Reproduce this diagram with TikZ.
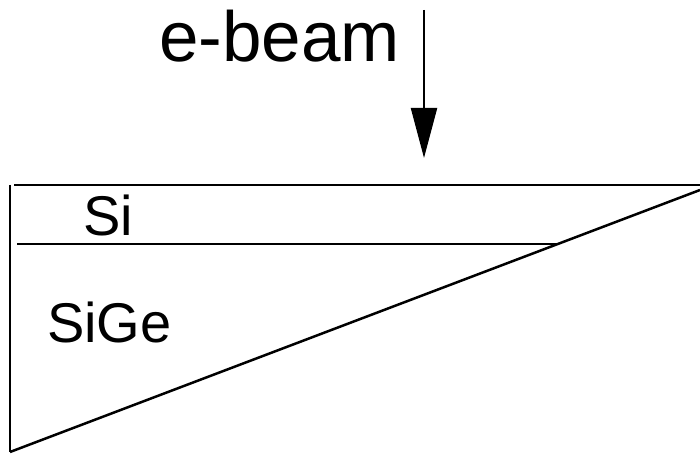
\documentclass[tikz,border=0pt]{standalone}
\usepackage{fontspec}
\setmainfont{Liberation Sans}
\usetikzlibrary{arrows.meta}
\begin{document}
\begin{tikzpicture}[x=1pt,y=-1pt,
    edge/.style={line width=2.5pt},
    label/.style={anchor=base west,inner sep=0pt,outer sep=0pt},
    big/.style={label,font=\fontsize{71}{71}\selectfont},
    mid/.style={label,font=\fontsize{56}{56}\selectfont}]
  \useasboundingbox (0,0) rectangle (700,454);
  % layer outline
  \coordinate (tl) at (10,185);
  \coordinate (tr) at (700,185);
  \coordinate (bl) at (10,452);
  \coordinate (dr) at (700,190);
  \coordinate (il) at (17,244);
  \coordinate (ir) at (557,244);
  \draw[edge] (tl) -- (bl);
  \draw[edge] (14,185) -- (tr);
  \draw[edge] (bl) -- (dr);
  \draw[edge] (il) -- (ir);
  % beam
  \coordinate (btop) at (424,10);
  \coordinate (bend) at (424,158);
  \draw[line width=2.2pt,-{Triangle[length=50pt,width=26pt]}] (btop) -- (bend);
  % labels
  \node[big] (beam) at (159,62) {e-beam};
  \node[mid] (si) at (83,235) {Si};
  \node[mid] (sige) at (47,342) {SiGe};
\end{tikzpicture}
\end{document}
